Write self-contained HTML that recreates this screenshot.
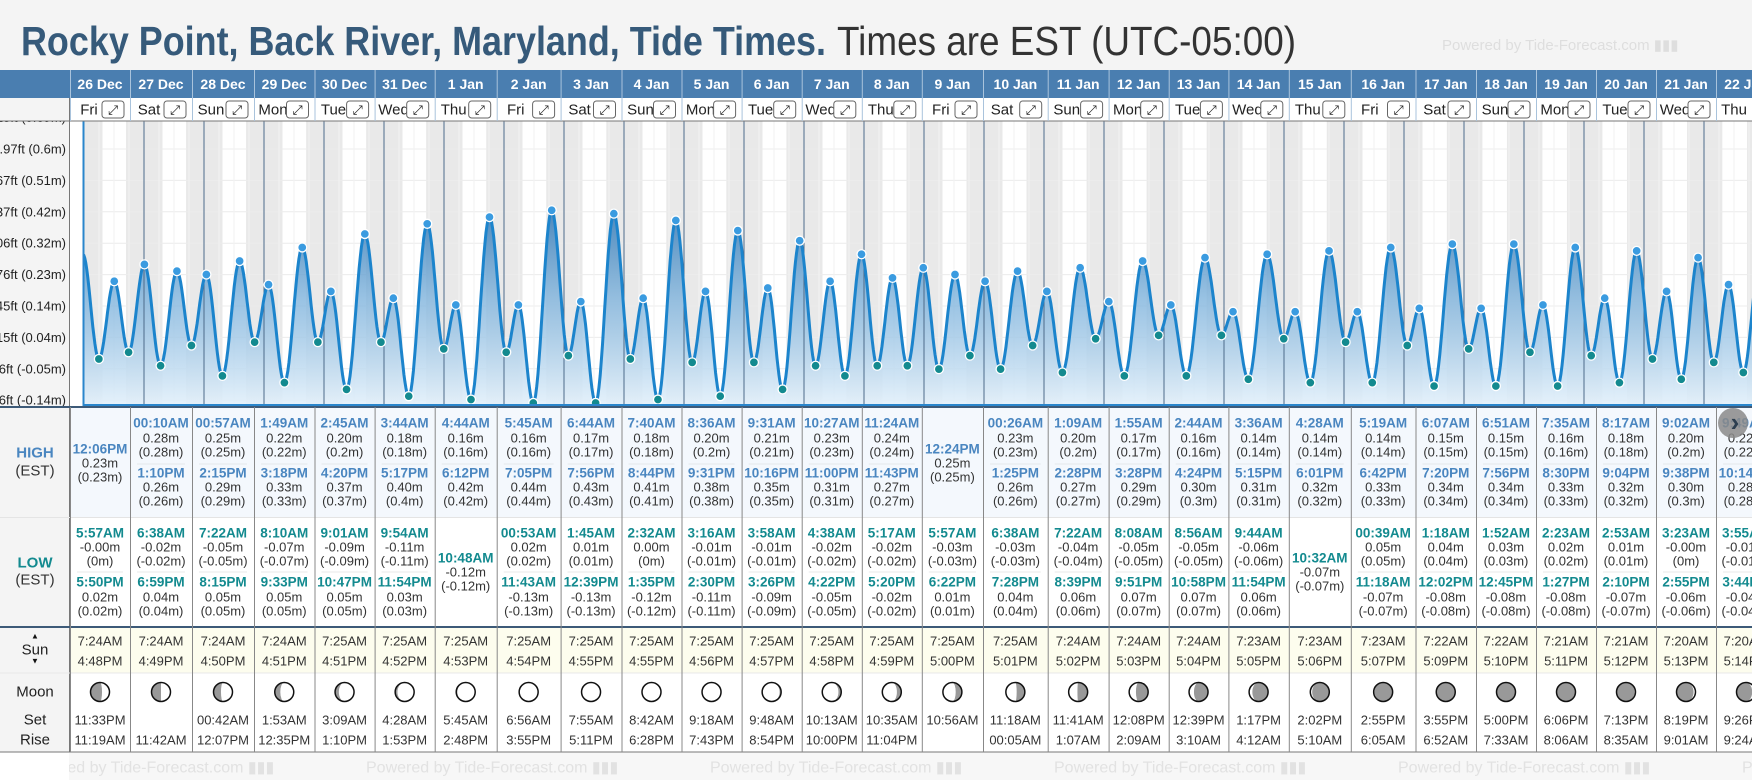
<!DOCTYPE html>
<html><head><meta charset="utf-8">
<style>
html,body{margin:0;padding:0;background:#f4f4f4;width:1752px;height:780px;overflow:hidden;font-family:"Liberation Sans",sans-serif}
svg{display:block}
</style></head>
<body>
<svg id="root" xmlns="http://www.w3.org/2000/svg" width="1752" height="780" viewBox="0 0 1752 780">
<defs>
<linearGradient id="fillGrad" gradientUnits="userSpaceOnUse" x1="0" y1="190" x2="0" y2="407">
<stop offset="0" stop-color="#2f74b0" stop-opacity="0.95"/>
<stop offset="0.5" stop-color="#7fb3dc" stop-opacity="0.8"/>
<stop offset="1" stop-color="#e4f1fb" stop-opacity="0.9"/>
</linearGradient>
<clipPath id="plotClip"><rect x="83" y="121" width="1669" height="285"/></clipPath>
<clipPath id="axisClip"><rect x="0" y="121" width="69" height="286"/></clipPath>
</defs>
<text x="21" y="55" font-size="41"><tspan font-weight="bold" fill="#365a7a" textLength="805" lengthAdjust="spacingAndGlyphs">Rocky Point, Back River, Maryland, Tide Times.</tspan><tspan x="837" fill="#333" textLength="459" lengthAdjust="spacingAndGlyphs">Times are EST (UTC-05:00)</tspan></text>
<text x="1442" y="50" font-size="15" fill="#dedede">Powered by Tide-Forecast.com ▮▮▮</text>
<g id="g"></g>
</svg>
<script>
// ---- data ----
const days = ['26 Dec','27 Dec','28 Dec','29 Dec','30 Dec','31 Dec','1 Jan','2 Jan','3 Jan','4 Jan','5 Jan','6 Jan','7 Jan','8 Jan','9 Jan','10 Jan','11 Jan','12 Jan','13 Jan','14 Jan','15 Jan','16 Jan','17 Jan','18 Jan','19 Jan','20 Jan','21 Jan','22 Jan'];
const weekdays = ['Fri','Sat','Sun','Mon','Tue','Wed','Thu','Fri','Sat','Sun','Mon','Tue','Wed','Thu','Fri','Sat','Sun','Mon','Tue','Wed','Thu','Fri','Sat','Sun','Mon','Tue','Wed','Thu'];
const highTimes = [['12:06PM'],['00:10AM','1:10PM'],['00:57AM','2:15PM'],['1:49AM','3:18PM'],['2:45AM','4:20PM'],['3:44AM','5:17PM'],['4:44AM','6:12PM'],['5:45AM','7:05PM'],['6:44AM','7:56PM'],['7:40AM','8:44PM'],['8:36AM','9:31PM'],['9:31AM','10:16PM'],['10:27AM','11:00PM'],['11:24AM','11:43PM'],['12:24PM'],['00:26AM','1:25PM'],['1:09AM','2:28PM'],['1:55AM','3:28PM'],['2:44AM','4:24PM'],['3:36AM','5:15PM'],['4:28AM','6:01PM'],['5:19AM','6:42PM'],['6:07AM','7:20PM'],['6:51AM','7:56PM'],['7:35AM','8:30PM'],['8:17AM','9:04PM'],['9:02AM','9:38PM'],['9:49AM','10:14PM']];
const highHeights = [['0.23'],['0.28','0.26'],['0.25','0.29'],['0.22','0.33'],['0.20','0.37'],['0.18','0.40'],['0.16','0.42'],['0.16','0.44'],['0.17','0.43'],['0.18','0.41'],['0.20','0.38'],['0.21','0.35'],['0.23','0.31'],['0.24','0.27'],['0.25'],['0.23','0.26'],['0.20','0.27'],['0.17','0.29'],['0.16','0.30'],['0.14','0.31'],['0.14','0.32'],['0.14','0.33'],['0.15','0.34'],['0.15','0.34'],['0.16','0.33'],['0.18','0.32'],['0.20','0.30'],['0.22','0.28']];
const lowTimes = [['5:57AM','5:50PM'],['6:38AM','6:59PM'],['7:22AM','8:15PM'],['8:10AM','9:33PM'],['9:01AM','10:47PM'],['9:54AM','11:54PM'],['10:48AM'],['00:53AM','11:43AM'],['1:45AM','12:39PM'],['2:32AM','1:35PM'],['3:16AM','2:30PM'],['3:58AM','3:26PM'],['4:38AM','4:22PM'],['5:17AM','5:20PM'],['5:57AM','6:22PM'],['6:38AM','7:28PM'],['7:22AM','8:39PM'],['8:08AM','9:51PM'],['8:56AM','10:58PM'],['9:44AM','11:54PM'],['10:32AM'],['00:39AM','11:18AM'],['1:18AM','12:02PM'],['1:52AM','12:45PM'],['2:23AM','1:27PM'],['2:53AM','2:10PM'],['3:23AM','2:55PM'],['3:55AM','3:44PM']];
const lowHeights = [['-0.00','0.02'],['-0.02','0.04'],['-0.05','0.05'],['-0.07','0.05'],['-0.09','0.05'],['-0.11','0.03'],['-0.12'],['0.02','-0.13'],['0.01','-0.13'],['0.00','-0.12'],['-0.01','-0.11'],['-0.01','-0.09'],['-0.02','-0.05'],['-0.02','-0.02'],['-0.03','0.01'],['-0.03','0.04'],['-0.04','0.06'],['-0.05','0.07'],['-0.05','0.07'],['-0.06','0.06'],['-0.07'],['0.05','-0.07'],['0.04','-0.08'],['0.03','-0.08'],['0.02','-0.08'],['0.01','-0.07'],['-0.00','-0.06'],['-0.01','-0.04']];
const sunrise = ['7:24AM','7:24AM','7:24AM','7:24AM','7:25AM','7:25AM','7:25AM','7:25AM','7:25AM','7:25AM','7:25AM','7:25AM','7:25AM','7:25AM','7:25AM','7:25AM','7:24AM','7:24AM','7:24AM','7:23AM','7:23AM','7:23AM','7:22AM','7:22AM','7:21AM','7:21AM','7:20AM','7:20AM'];
const sunset = ['4:48PM','4:49PM','4:50PM','4:51PM','4:51PM','4:52PM','4:53PM','4:54PM','4:55PM','4:55PM','4:56PM','4:57PM','4:58PM','4:59PM','5:00PM','5:01PM','5:02PM','5:03PM','5:04PM','5:05PM','5:06PM','5:07PM','5:09PM','5:10PM','5:11PM','5:12PM','5:13PM','5:14PM'];
const moonSet = ['11:33PM','','00:42AM','1:53AM','3:09AM','4:28AM','5:45AM','6:56AM','7:55AM','8:42AM','9:18AM','9:48AM','10:13AM','10:35AM','10:56AM','11:18AM','11:41AM','12:08PM','12:39PM','1:17PM','2:02PM','2:55PM','3:55PM','5:00PM','6:06PM','7:13PM','8:19PM','9:26PM'];
const moonRise = ['11:19AM','11:42AM','12:07PM','12:35PM','1:10PM','1:53PM','2:48PM','3:55PM','5:11PM','6:28PM','7:43PM','8:54PM','10:00PM','11:04PM','','00:05AM','1:07AM','2:09AM','3:10AM','4:12AM','5:10AM','6:05AM','6:52AM','7:33AM','8:06AM','8:35AM','9:01AM','9:24AM'];
const edgeBefore = [-0.02, 0.31];   // [day offset, metres] high just before chart start
const edgeAfter = [28.2, -0.01];    // following low after last day
const yTickLabels = ['2.28ft (0.69m)','1.97ft (0.6m)','1.67ft (0.51m)','1.37ft (0.42m)','1.06ft (0.32m)','0.76ft (0.23m)','0.45ft (0.14m)','0.15ft (0.04m)','-0.16ft (-0.05m)','-0.46ft (-0.14m)'];

// ---- layout ----
const colX = [70,130,192,254,314.5,374.6,434.7,496.7,560.6,621.5,681.5,741.6,801.7,861.8,921.8,983,1047.7,1108.6,1168.7,1228.4,1288.8,1350.8,1415.5,1476,1536,1596,1656,1716,1776];
const NS='http://www.w3.org/2000/svg';
const G=document.getElementById('g');
function el(tag,attrs,parent){const e=document.createElementNS(NS,tag);for(const k in attrs)e.setAttribute(k,attrs[k]);(parent||G).appendChild(e);return e;}
function txt(x,y,s,attrs,parent){const t=el('text',Object.assign({x:x,y:y,'text-anchor':'middle','dominant-baseline':'central'},attrs),parent);t.textContent=s;return t;}
function parseT(s){const m=s.match(/(\d+):(\d+)(AM|PM)/);let h=parseInt(m[1])%12;if(m[3]==='PM')h+=12;return (h+parseInt(m[2])/60)/24;}
const xDay=t=>84+t*60;
const yM=m=>359-m*338;
function short(s){let v=Math.round(parseFloat(s)*100)/100;if(v===0)return '0';return String(v);}

// chart background
let bg=el('rect',{x:69,y:121,width:1683,height:286,fill:'#ffffff'});


const plot=el('g',{'clip-path':'url(#plotClip)'});


for(let d=-1;d<days.length+1;d++){
  const sr=d<0?parseT(sunrise[0]):parseT(sunrise[Math.min(d,days.length-1)]);
  const ss=d<0?parseT(sunset[0]):parseT(sunset[Math.min(d,days.length-1)]);
  const n=el('rect',{x:xDay(d+ss),y:121,width:xDay(d+1+sr)-xDay(d+ss),height:286,fill:'#e9e9e9'},plot);
  
  
}
for(let k=-1;k<=8;k++){
  const y=149+k*31.4;
  const l=el('line',{x1:69,x2:1752,y1:y,y2:y,stroke:'#ececec','stroke-width':1},plot);
  
  
}
for(let q=-4;q<days.length*4+4;q++){
  if(q%4===0)continue;
  const l=el('line',{x1:xDay(q/4),x2:xDay(q/4),y1:121,y2:407,stroke:'#f2f2f2','stroke-width':1},plot);
  
  
}
// extremes
const ext=[];
for(let d=0;d<days.length;d++){
  highTimes[d].forEach((t,i)=>ext.push({t:d+parseT(t),m:parseFloat(highHeights[d][i]),hi:true}));
  lowTimes[d].forEach((t,i)=>ext.push({t:d+parseT(t),m:parseFloat(lowHeights[d][i]),hi:false}));
}
ext.sort((a,b)=>a.t-b.t);
const all=[{t:edgeBefore[0],m:edgeBefore[1],hi:true}].concat(ext,[{t:edgeAfter[0],m:edgeAfter[1],hi:false}]);
let pts=[];
for(let i=0;i<all.length-1;i++){
  const a=all[i],b=all[i+1];
  for(let s=0;s<16;s++){const f=s/16;const m=a.m+(b.m-a.m)*(1-Math.cos(Math.PI*f))/2;pts.push([xDay(a.t+(b.t-a.t)*f),yM(m)]);}
}
const lastP=all[all.length-1];pts.push([xDay(lastP.t),yM(lastP.m)]);
const lineD='M'+pts.map(p=>p[0].toFixed(1)+','+p[1].toFixed(1)).join('L');
const area=el('path',{d:lineD+'L'+pts[pts.length-1][0].toFixed(1)+',407L'+pts[0][0].toFixed(1)+',407Z',fill:'url(#fillGrad)'},plot);


for(let d=0;d<days.length;d++){
  const l=el('line',{x1:xDay(d),x2:xDay(d),y1:121,y2:407,stroke:'#4d6b8a','stroke-width':1},plot);
  
  
}
const line=el('path',{d:lineD,fill:'none',stroke:'#1c84cc','stroke-width':3},plot);


ext.forEach(e=>{
  const c=el('circle',{cx:xDay(e.t),cy:yM(e.m),r:4.5,fill:e.hi?'#3a9be0':'#138a8f',stroke:'#fff','stroke-width':1.3},plot);
  
  
});
let pb=el('line',{x1:83.5,x2:83.5,y1:121,y2:406,stroke:'#2a86cc','stroke-width':2});


pb=el('line',{x1:83,x2:1752,y1:405,y2:405,stroke:'#2a86cc','stroke-width':2});



// y axis panel
let ap=el('rect',{x:0,y:121,width:69,height:286,fill:'#f4f4f4'});


const ag=el('g',{'clip-path':'url(#axisClip)'});
yTickLabels.forEach((s,k)=>{
  const t=txt(66,149+(k-1)*31.4,s,{'text-anchor':'end','font-size':13,fill:'#222'},ag);
  
  
});
let al=el('line',{x1:69.5,x2:69.5,y1:70,y2:780,stroke:'#777','stroke-width':1});



// header
let hb=el('rect',{x:0,y:70,width:1752,height:28,fill:'#4a7eb0'});


let dr=el('rect',{x:70,y:98,width:1682,height:23,fill:'#fff'});


let dl=el('line',{x1:0,x2:1752,y1:121,y2:121,stroke:'#777','stroke-width':1});



// table backgrounds
let hr=el('rect',{x:70,y:408,width:1682,height:110,fill:'#f4f8fd'});


let lr=el('rect',{x:70,y:518,width:1682,height:109,fill:'#fff'});


let sr=el('rect',{x:70,y:628,width:1682,height:45,fill:'#fdfdee'});


let mr=el('rect',{x:70,y:673,width:1682,height:79,fill:'#fff'});


let lp=el('rect',{x:0,y:408,width:69,height:344,fill:'#f4f4f4'});


let ft=el('rect',{x:0,y:752,width:1752,height:28,fill:'#f7f7f7'});


for(let k=0;k<6;k++){
  const w=txt(22+k*344,768,'Powered by Tide-Forecast.com ▮▮▮',{'text-anchor':'start','font-size':16,fill:'#e2e2e2'});
  
  
}
let fl=el('rect',{x:0,y:752,width:69,height:28,fill:'#fff'});



// row borders
[[407,2,'#3d5a78'],[517.5,1,'#e4e4e4'],[627,2,'#3d5a78'],[673,1,'#e8e8e8'],[752,1,'#777']].forEach(r=>{
  const l=el('line',{x1:0,x2:1752,y1:r[0],y2:r[0],stroke:r[2],'stroke-width':r[1]});
  
  
});

// left labels
let t;
t=txt(35,453,'HIGH',{'font-size':15,'font-weight':'bold',fill:'#4a86c0'});
t=txt(35,471,'(EST)',{'font-size':15,fill:'#333'});
t=txt(35,563,'LOW',{'font-size':15,'font-weight':'bold',fill:'#138a8f'});
t=txt(35,580,'(EST)',{'font-size':15,fill:'#333'});
t=txt(35,636,'▲',{'font-size':8,fill:'#111'});
t=txt(35,650,'Sun',{'font-size':15,fill:'#222'});
t=txt(35,661,'▼',{'font-size':8,fill:'#111'});
t=txt(35,692,'Moon',{'font-size':15,fill:'#222'});
t=txt(35,720,'Set',{'font-size':15,fill:'#222'});
t=txt(35,740,'Rise',{'font-size':15,fill:'#222'});

function moonPath(p,r){
  const c=Math.cos(2*Math.PI*p), rx=Math.abs(c)*r;
  if(p<=0.5){ const s=c>0?0:1; return `M0,${-r}A${r},${r} 0 0 1 0,${r}A${rx},${r} 0 0 ${s} 0,${-r}Z`; }
  const s=c>0?1:0; return `M0,${-r}A${r},${r} 0 0 0 0,${r}A${rx},${r} 0 0 ${s} 0,${-r}Z`;
}

for(let d=0;d<days.length;d++){
  const x0=colX[d],x1=colX[d+1],cx=(x0+x1)/2;
  const hd=txt(cx,84,days[d],{'font-size':14,'font-weight':'bold',fill:'#fff'});
  
  
  const sep=el('line',{x1:x0+0.5,x2:x0+0.5,y1:70,y2:121,stroke:'#a9c3dc','stroke-width':1});
  
  
  const wd=txt(d===27?x0+18:x0+19,110,weekdays[d],{'font-size':15,fill:'#222'});
  
  
  if(d<27){
    const bx=el('rect',{x:x1-28,y:101,width:22,height:17,rx:3,fill:'#fff',stroke:'#666','stroke-width':1});
    
    
    const ic=txt(x1-17,110,'⤢',{'font-size':13,fill:'#222'});
    
    
  }
  const vl=el('line',{x1:x0+0.5,x2:x0+0.5,y1:407,y2:752,stroke:'#888','stroke-width':1});
  
  
  // highs
  const hs=highTimes[d];
  const hy=hs.length===2?[[423,438,452],[473,487,501]]:[[449,463,477]];
  if(hs.length===2){const s=el('line',{x1:x0+7,x2:x1-7,y1:464,y2:464,stroke:'#e4e8ec'});}
  hs.forEach((tm,i)=>{
    let a=txt(cx,hy[i][0],tm,{'font-size':13.5,'font-weight':'bold',fill:'#4a86c0'});
    a=txt(cx,hy[i][1],highHeights[d][i]+'m',{'font-size':13,fill:'#333'});
    a=txt(cx,hy[i][2],'('+short(highHeights[d][i])+'m)',{'font-size':13,fill:'#333'});
  });
  const ls=lowTimes[d];
  const ly=ls.length===2?[[533,547,561],[582,597,611]]:[[558,572,586]];
  if(ls.length===2){const s=el('line',{x1:x0+7,x2:x1-7,y1:572,y2:572,stroke:'#e8e8e8'});}
  ls.forEach((tm,i)=>{
    let a=txt(cx,ly[i][0],tm,{'font-size':13.5,'font-weight':'bold',fill:'#138a8f'});
    a=txt(cx,ly[i][1],lowHeights[d][i]+'m',{'font-size':13,fill:'#333'});
    a=txt(cx,ly[i][2],'('+short(lowHeights[d][i])+'m)',{'font-size':13,fill:'#333'});
  });
  let a=txt(cx,641,sunrise[d],{'font-size':13,fill:'#333'});
  a=txt(cx,661,sunset[d],{'font-size':13,fill:'#333'});
  const mg=el('g',{transform:`translate(${cx},692)`});
  
  
  el('circle',{cx:0,cy:0,r:9.5,fill:'#999'},mg);
  const p=(0.25+(d-1)/29.3)%1;
  el('path',{d:moonPath(p,9.5),fill:'#fff'},mg);
  el('circle',{cx:0,cy:0,r:9.5,fill:'none',stroke:'#111','stroke-width':1.5},mg);
  if(moonSet[d]){a=txt(cx,720,moonSet[d],{'font-size':13,fill:'#333'});}
  if(moonRise[d]){a=txt(cx,740,moonRise[d],{'font-size':13,fill:'#333'});}
}
const nb=el('circle',{cx:1733,cy:423,r:15,fill:'#8a8a8a','fill-opacity':0.85});


const na=txt(1735,422,'›',{'font-size':26,'font-weight':'bold',fill:'#2c3e50'});


</script>
</body></html>
